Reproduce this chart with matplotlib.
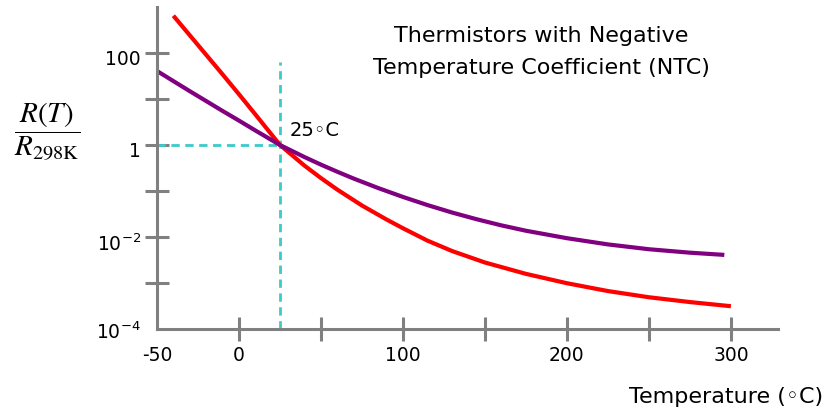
import matplotlib
matplotlib.use('Agg')
import matplotlib.pyplot as plt
import matplotlib.transforms as mtransforms
from matplotlib.ticker import FixedLocator, FixedFormatter, NullLocator

plt.rcParams['font.family'] = ['DejaVu Sans']
plt.rcParams['mathtext.default'] = 'regular'

# values (temperature in degC, R(T)/R298K)
temp_red = [-40, -30, -20, -10, 0, 10, 25, 40, 50, 60, 75, 90, 100, 115, 130, 150, 175, 200,
            225, 250, 275, 300]
ratio_red = [646, 243, 91.2, 34.3, 12.7, 4.62, 1.0, 0.355, 0.191, 0.107, 0.0484, 0.0240,
             0.0155, 0.00832, 0.00495, 0.00279, 0.00158, 0.000989, 0.000668, 0.00049,
             0.000385, 0.000313]

temp_purple = [-50, -40, -30, -20, -10, 0, 10, 25, 40, 50, 60, 70, 85, 100, 115, 130, 145, 160,
               175, 200, 225, 250, 275, 296]
ratio_purple = [40.7, 24.5, 14.8, 9.02, 5.50, 3.39, 2.07, 1.0, 0.546, 0.374, 0.262, 0.186,
                0.1156, 0.0743, 0.0494, 0.0340, 0.0243, 0.0179, 0.01368, 0.00942, 0.0069,
                0.00542, 0.00456, 0.00408]

ref_temp = 25
ref_ratio = 1
ref_top = 63

xticks = [-50, 0, 50, 100, 150, 200, 250, 300]
xticklabels = ['-50', '0', '', '100', '', '200', '', '300']
yticks = [1e-4, 1e-3, 1e-2, 1e-1, 1, 10, 100]
yticklabels = ['$10^{-4}$', '', '$10^{-2}$', '', '1', '', '100']

grey = '#808080'
cyan = '#3ccaca'

fig = plt.figure(figsize=(8.27, 4.14), dpi=100)
ax = fig.add_axes([0.1898, 0.2029, 0.7509, 0.7778])

# dashed guides at 25 degC
ax.plot([ref_temp, ref_temp], [1e-4, ref_top], color=cyan, lw=2, dashes=(3, 2))
ax.plot([-50, ref_temp], [ref_ratio, ref_ratio], color=cyan, lw=2, dashes=(3, 2))

ax.plot(temp_red, ratio_red, color='#ff0000', lw=3, solid_capstyle='butt',
        solid_joinstyle='round')
ax.plot(temp_purple, ratio_purple, color='#800080', lw=3, solid_capstyle='butt',
        solid_joinstyle='round')

ax.set_yscale('log')
ax.set_xlim(-50, 328.7)
ax.set_ylim(1e-4, 1e3)

for s in ['top', 'right']:
    ax.spines[s].set_visible(False)
for s in ['left', 'bottom']:
    ax.spines[s].set_color(grey)
    ax.spines[s].set_linewidth(2.2)

ax.xaxis.set_major_locator(FixedLocator(xticks))
ax.xaxis.set_major_formatter(FixedFormatter(xticklabels))
ax.yaxis.set_major_locator(FixedLocator(yticks))
ax.yaxis.set_major_formatter(FixedFormatter(yticklabels))
ax.yaxis.set_minor_locator(NullLocator())
ax.tick_params(axis='both', direction='inout', length=17, width=2.2, color=grey,
               labelsize=13.5, labelcolor='black', pad=3)
ax.xaxis.get_major_ticks()[0].tick1line.set_visible(False)
ax.yaxis.get_major_ticks()[0].tick1line.set_visible(False)

# y labels sit a little below their ticks in the original
shift = mtransforms.ScaledTranslation(0, -0.04, fig.dpi_scale_trans)
for t in ax.yaxis.get_major_ticks()[1:]:
    t.label1.set_transform(t.label1.get_transform() + shift)

ax.text(31, 2.2, '25\u25e6C', fontsize=14, va='center', ha='left')

fig.text(0.655, 0.913, 'Thermistors with Negative', fontsize=16, ha='center', va='center')
fig.text(0.655, 0.836, 'Temperature Coefficient (NTC)', fontsize=16, ha='center', va='center')
fig.text(0.995, 0.04, 'Temperature (\u25e6C)', fontsize=16, ha='right', va='center')
fig.text(0.057, 0.68,
         r'$\dfrac{\mathit{R}\left(\mathit{T}\right)}{\mathit{R}_{\mathrm{298K}}}$',
         fontsize=21, ha='center', va='center', math_fontfamily='stix')

fig.savefig('out.png', dpi=100)
